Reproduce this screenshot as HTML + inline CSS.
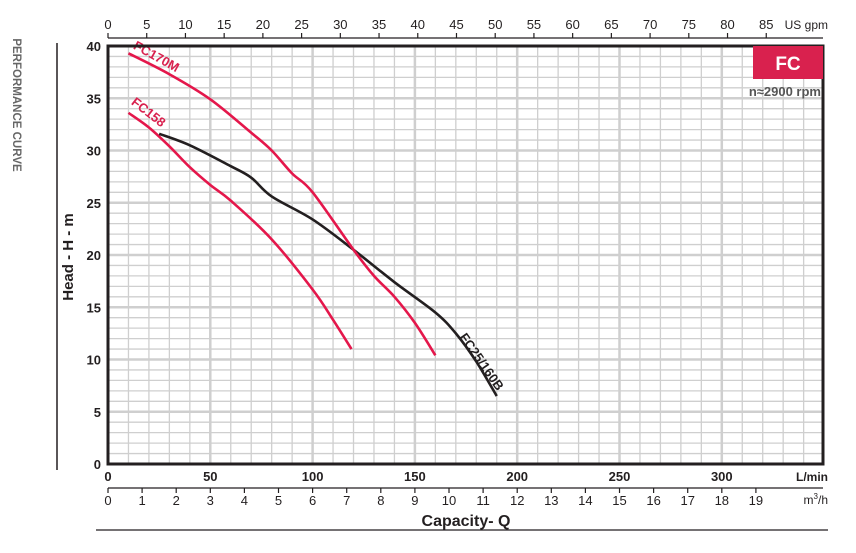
<!DOCTYPE html>
<html><head><meta charset="utf-8"><style>
html,body{margin:0;padding:0;background:#fff;}
svg{display:block;font-family:"Liberation Sans",sans-serif;}
</style></head><body>
<svg width="856" height="553" viewBox="0 0 856 553" xmlns="http://www.w3.org/2000/svg">
<g id="grid"></g>
<g id="curves"></g>
<g id="axes"></g>
<rect x="108" y="46" width="715" height="418" fill="none" stroke="#231f20" stroke-width="3"/>
<rect x="753" y="46" width="70" height="33" fill="#d9214e"/>
<text x="788" y="70" text-anchor="middle" font-size="19" font-weight="bold" fill="#fff">FC</text>
<text x="821" y="96" text-anchor="end" font-size="13" font-weight="bold" fill="#555">n≈2900 rpm</text>
<text transform="translate(13,105) rotate(90)" text-anchor="middle" font-size="11.5" font-weight="bold" fill="#666">PERFORMANCE CURVE</text>
<line x1="57" y1="43" x2="57" y2="470" stroke="#231f20" stroke-width="1.5"/>
<text transform="translate(73,257) rotate(-90)" text-anchor="middle" font-size="15" font-weight="bold" fill="#231f20">Head - H - m</text>
<text x="466" y="526" text-anchor="middle" font-size="16" font-weight="bold" fill="#231f20">Capacity- Q</text>
<line x1="96" y1="530" x2="828" y2="530" stroke="#231f20" stroke-width="1.2"/>
</svg>
<script>
const lpmTicks=[0,50,100,150,200,250,300];
const headTicks=[0,5,10,15,20,25,30,35,40];
const gpmTicks=[0,5,10,15,20,25,30,35,40,45,50,55,60,65,70,75,80,85];
const m3hTicks=[0,1,2,3,4,5,6,7,8,9,10,11,12,13,14,15,16,17,18,19];
const fc170mQ=[10,30,50,70,80,90,100,120,130,140,150,160];
const fc170mH=[39.3,37.3,34.9,31.7,30,27.8,26,20.5,18,16,13.5,10.4];
const fc158Q=[10,20,30,40,50,60,80,100,110,119];
const fc158H=[33.6,32.2,30.4,28.4,26.7,25.2,21.5,16.7,13.8,11];
const fc25Q=[25,40,60,70,80,100,120,140,160,170,180,190];
const fc25H=[31.6,30.5,28.5,27.4,25.6,23.4,20.5,17.4,14.5,12.5,9.8,6.5];
const X0=108,XS=2.046,Y0=464,YS=10.45;
const xS=q=>X0+q*XS, yS=h=>Y0-h*YS;
const NS="http://www.w3.org/2000/svg";
function mk(tag,parent,attrs){const e=document.createElementNS(NS,tag);for(const k in attrs)e.setAttribute(k,attrs[k]);parent.appendChild(e);return e;}
const grid=document.getElementById('grid'),axes=document.getElementById('axes'),curves=document.getElementById('curves');
for(let q=10;q<350;q+=10){
 const l=mk('line',grid,{x1:xS(q),y1:46,x2:xS(q),y2:464,stroke:'#cfcfcf','stroke-width':q%50===0?2.5:1.3});
 
 
}
for(let h=1;h<40;h++){
 const l=mk('line',grid,{x1:108,y1:yS(h),x2:823,y2:yS(h),stroke:'#cfcfcf','stroke-width':h%5===0?2.5:1.3});
 
 
}
lpmTicks.forEach(v=>{
 const t=mk('text',axes,{x:xS(v),y:481,'text-anchor':'middle','font-size':13,'font-weight':'bold',fill:'#231f20'});t.textContent=v;
 
 
});
{const t=mk('text',axes,{x:828,y:481,'text-anchor':'end','font-size':12,'font-weight':'bold',fill:'#231f20'});t.textContent='L/min';
 
 }
headTicks.forEach(v=>{
 const t=mk('text',axes,{x:101,y:yS(v)+5,'text-anchor':'end','font-size':13,'font-weight':'bold',fill:'#231f20'});t.textContent=v;
 
 
});
// top gpm axis
{const l=mk('line',axes,{x1:108,y1:38,x2:823,y2:38,stroke:'#231f20','stroke-width':1.3});
 
 }
gpmTicks.forEach(v=>{
 const x=xS(v*3.785);
 const l=mk('line',axes,{x1:x,y1:33,x2:x,y2:38,stroke:'#231f20','stroke-width':1.2});
 
 
 const t=mk('text',axes,{x:x,y:29,'text-anchor':'middle','font-size':13,fill:'#231f20'});t.textContent=v;
 
 
});
{const t=mk('text',axes,{x:828,y:29,'text-anchor':'end','font-size':12,fill:'#231f20'});t.textContent='US gpm';
 
 }
// bottom m3/h axis
{const l=mk('line',axes,{x1:108,y1:488,x2:823,y2:488,stroke:'#231f20','stroke-width':1.3});
 
 }
m3hTicks.forEach(v=>{
 const x=xS(v*16.667);
 const l=mk('line',axes,{x1:x,y1:488,x2:x,y2:493,stroke:'#231f20','stroke-width':1.2});
 
 
 const t=mk('text',axes,{x:x,y:505,'text-anchor':'middle','font-size':13,fill:'#231f20'});t.textContent=v;
 
 
});
{const t=mk('text',axes,{x:828,y:504,'text-anchor':'end','font-size':12,fill:'#231f20'});t.innerHTML='m<tspan font-size="8" dy="-5">3</tspan><tspan dy="5">/h</tspan>';
 
 }
function path(Q,H){
 const p=Q.map((q,i)=>[xS(q),yS(H[i])]);
 let d='M'+p[0][0]+','+p[0][1];
 for(let i=0;i<p.length-1;i++){
  const p0=p[i-1]||p[i],p1=p[i],p2=p[i+1],p3=p[i+2]||p2;
  d+=' C'+(p1[0]+(p2[0]-p0[0])/6)+','+(p1[1]+(p2[1]-p0[1])/6)+' '+(p2[0]-(p3[0]-p1[0])/6)+','+(p2[1]-(p3[1]-p1[1])/6)+' '+p2[0]+','+p2[1];
 }
 return d;
}
{const e=mk('path',curves,{d:path(fc158Q,fc158H),fill:'none',stroke:'#e4174b','stroke-width':2.6});
 
 }
{const e=mk('path',curves,{d:path(fc25Q,fc25H),fill:'none',stroke:'#231f20','stroke-width':2.6});
 
 }
{const e=mk('path',curves,{d:path(fc170mQ,fc170mH),fill:'none',stroke:'#e4174b','stroke-width':2.6});
 
 }
function lab(txt,x,y,a,c,name){
 const t=mk('text',curves,{transform:`translate(${x},${y}) rotate(${a})`,'font-size':13,'font-weight':'bold',fill:c});t.textContent=txt;
 
 
}
lab('FC170M',xS(12),yS(39.4)-4,29,'#d9214e','fc170m-label');
lab('FC158',xS(11),yS(34.2)-3,38,'#d9214e','fc158-label');
lab('FC25/160B',459,337,55,'#231f20','fc25-160b-label');
</script>
</body></html>
